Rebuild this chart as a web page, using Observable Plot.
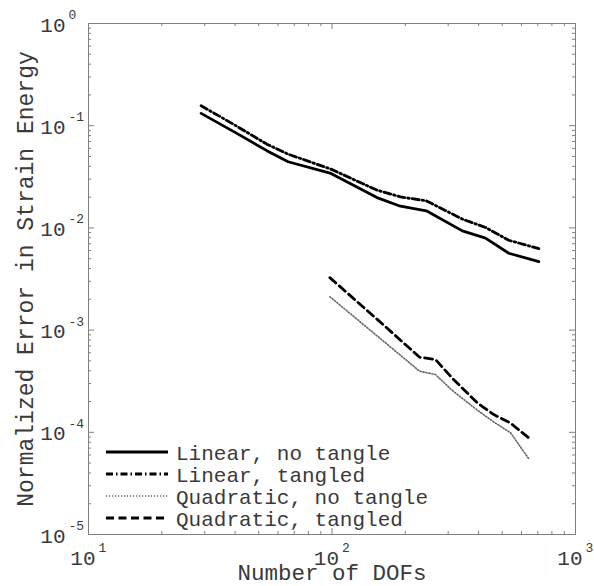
<!DOCTYPE html>
<html><head><meta charset="utf-8">
<script src="https://cdn.jsdelivr.net/npm/d3@7"></script>
<script src="https://cdn.jsdelivr.net/npm/@observablehq/plot@0.6"></script>
<style>
body{margin:0;background:#fff;}
#chart{position:relative;width:594px;height:586px;}
#chart svg{position:absolute;left:0;top:0;}
</style></head><body><div id="chart"></div>
<script>
// ---- data ----
const seriesNames = ["Linear, no tangle", "Linear, tangled", "Quadratic, no tangle", "Quadratic, tangled"];
const linearDOFs      = [29, 40, 54, 66, 99, 153, 191, 244, 343, 427, 532, 707];
const linearNoTangle  = [0.132, 0.086, 0.057, 0.0444, 0.0341, 0.0198, 0.0163, 0.0147, 0.00935, 0.00793, 0.00565, 0.00467];
const linearTangled   = [0.157, 0.101, 0.066, 0.0527, 0.0376, 0.0234, 0.0201, 0.0184, 0.0122, 0.0101, 0.00757, 0.00627];
const quadDOFs        = [98, 153, 229, 266, 311, 395, 462, 541, 643];
const quadNoTangle    = [0.00212, 0.00088, 0.000396, 0.000368, 0.000258, 0.000165, 0.000126, 0.000099, 0.000055];
const quadTangled     = [0.00326, 0.00128, 0.000543, 0.000516, 0.000341, 0.000194, 0.000149, 0.000123, 0.000088];
const xTickExps = [1, 2, 3];
const yTickExps = [0, -1, -2, -3, -4, -5];
const xLabel = "Number of DOFs";
const yLabel = "Normalized Error in Strain Energy";

// ---- layout / style ----
const W = 594, H = 586, mL = 88, mR = 19, mT = 23, mB = 52;
const pw = W - mL - mR, ph = H - mT - mB;
const font = "'Liberation Mono', 'Courier New', monospace";
const axisGray = "#808080";
const textColor = "#3a3a3a";
const lineStyles = [
  {stroke: "#000", strokeWidth: 2.8, strokeDasharray: null},
  {stroke: "#000", strokeWidth: 2.8, strokeDasharray: "7,3,1.5,3"},
  {stroke: "#666", strokeWidth: 1.6, strokeDasharray: "1.2,1.8"},
  {stroke: "#000", strokeWidth: 2.8, strokeDasharray: "8,4.5"}
];

const rows = (xs, ys) => xs.map((x, i) => ({x, y: ys[i]}));
const seriesData = [
  rows(linearDOFs, linearNoTangle),
  rows(linearDOFs, linearTangled),
  rows(quadDOFs, quadNoTangle),
  rows(quadDOFs, quadTangled)
];

const majorX = xTickExps.map(e => 10 ** e);
const majorY = yTickExps.map(e => 10 ** e);
const minorX = [], minorY = [];
for (const e of [1, 2]) for (let k = 2; k <= 9; k++) minorX.push(k * 10 ** e);
for (const e of [-5, -4, -3, -2, -1]) for (let k = 2; k <= 9; k++) minorY.push(k * 10 ** e);

const tickMarks = (len, xs, ys) => [
  Plot.tickX(xs, {x: d => d, insetTop: ph - len, stroke: axisGray}),
  Plot.tickX(xs, {x: d => d, insetBottom: ph - len, stroke: axisGray}),
  Plot.tickY(ys, {y: d => d, insetRight: pw - len, stroke: axisGray}),
  Plot.tickY(ys, {y: d => d, insetLeft: pw - len, stroke: axisGray})
];

const chart = Plot.plot({
  width: W, height: H,
  marginLeft: mL, marginRight: mR, marginTop: mT, marginBottom: mB,
  style: {fontFamily: font, background: "transparent", overflow: "visible", color: textColor},
  x: {type: "log", domain: [10, 1000], axis: null},
  y: {type: "log", domain: [1e-5, 1], axis: null},
  marks: [
    ...tickMarks(3, minorX, minorY),
    ...tickMarks(6, majorX, majorY),
    ...seriesData.map((d, i) => Plot.line(d, {x: "x", y: "y", ...lineStyles[i], strokeLinejoin: "round"})),
    Plot.frame({stroke: axisGray}),
    // x tick labels 10^e
    Plot.text(xTickExps, {x: d => 10 ** d, frameAnchor: "bottom", text: () => "10", textAnchor: "end", lineAnchor: "bottom", dx: 7, dy: 30, fontSize: 21, fill: textColor}),
    Plot.text(xTickExps, {x: d => 10 ** d, frameAnchor: "bottom", text: d => String(d), textAnchor: "start", lineAnchor: "bottom", dx: 10, dy: 17, fontSize: 13, fill: textColor}),
    // y tick labels 10^e
    Plot.text(yTickExps, {y: d => 10 ** d, frameAnchor: "left", text: () => "10", textAnchor: "end", lineAnchor: "bottom", dx: -23, dy: 8, fontSize: 21, fill: textColor}),
    Plot.text(yTickExps, {y: d => 10 ** d, frameAnchor: "left", text: d => String(d), textAnchor: "start", lineAnchor: "bottom", dx: -20, dy: -4.5, fontSize: 13, fill: textColor}),
    // axis titles
    Plot.text([xLabel], {frameAnchor: "bottom", text: d => d, textAnchor: "middle", lineAnchor: "bottom", dy: 45, fontSize: 22.5, fill: textColor}),
    Plot.text([yLabel], {frameAnchor: "left", text: d => d, rotate: -90, textAnchor: "middle", lineAnchor: "bottom", dx: -56, fontSize: 23, fill: textColor})
  ]
});
document.getElementById("chart").appendChild(chart);

// ---- legend overlay (inside plot, lower left) ----
const leg = d3.select("#chart").append("svg").attr("width", W).attr("height", H)
  .style("pointer-events", "none").style("font-family", font);
const legX0 = 106, legX1 = 168, legTextX = 176, legY0 = 452, legStep = 22;
seriesNames.forEach((name, i) => {
  const y = legY0 + i * legStep;
  const s = lineStyles[i];
  leg.append("line").attr("x1", legX0).attr("x2", legX1).attr("y1", y).attr("y2", y)
    .attr("stroke", s.stroke).attr("stroke-width", s.strokeWidth)
    .attr("stroke-dasharray", s.strokeDasharray);
  leg.append("text").attr("x", legTextX).attr("y", y).attr("dy", "0.36em")
    .attr("font-size", 21).attr("fill", textColor).text(name);
});
</script></body></html>
